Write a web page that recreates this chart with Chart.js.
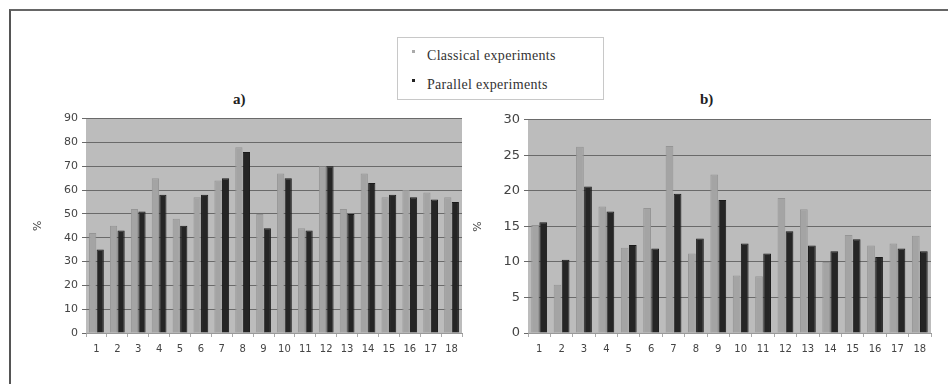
<!DOCTYPE html>
<html>
<head>
<meta charset="utf-8">
<script src="https://cdn.jsdelivr.net/npm/chart.js@4.4.0/dist/chart.umd.min.js"></script>
<style>
  body { margin: 0; background: #fff; width: 948px; height: 384px; overflow: hidden; position: relative; }
  .frame { position: absolute; left: 9px; top: 9px; width: 960px; height: 400px; border-top: 2px solid #666; border-left: 2px solid #555; }
  .legend { position: absolute; left: 397px; top: 37px; width: 205px; height: 61px; border: 1px solid #c8c8c8; font-family: "Liberation Serif", serif; font-size: 14px; letter-spacing: 0.3px; color: #333; }
  .legend div { position: absolute; left: 14px; }
  .legend span { display: inline-block; width: 3px; height: 3px; margin-right: 12px; vertical-align: 7px; }
  .ttl { position: absolute; top: 91px; font-family: "Liberation Serif", serif; font-weight: bold; font-size: 15px; color: #222; }
  canvas { position: absolute; }
</style>
</head>
<body>
<div class="frame"></div>
<div class="legend">
  <div style="top:10px"><span style="background:#aaa"></span>Classical experiments</div>
  <div style="top:39px"><span style="background:#222"></span>Parallel experiments</div>
</div>
<div class="ttl" style="left:233px">a)</div>
<div class="ttl" style="left:700px">b)</div>
<canvas id="chartA" style="left:30px;top:108px" width="440" height="262"></canvas>
<canvas id="chartB" style="left:470px;top:108px" width="475" height="262"></canvas>
<script>
const categories = ['1','2','3','4','5','6','7','8','9','10','11','12','13','14','15','16','17','18'];
const classicalA = [42, 45, 52, 65, 48, 57, 64, 78, 50, 67, 44, 70, 52, 67, 57, 60, 59, 57];
const parallelA  = [35, 43, 51, 58, 45, 58, 65, 76, 44, 65, 43, 70, 50, 63, 58, 57, 56, 55];
const classicalB = [15.2, 6.8, 26.2, 17.8, 12.0, 17.6, 26.3, 11.2, 22.3, 8.1, 8.0, 19.0, 17.4, 10.0, 13.8, 12.3, 12.6, 13.7];
const parallelB  = [15.6, 10.3, 20.6, 17.1, 12.4, 11.9, 19.6, 13.3, 18.7, 12.6, 11.2, 14.3, 12.3, 11.5, 13.2, 10.7, 11.9, 11.5];

const plotBg = {
  id: 'plotBg',
  beforeDraw(chart) {
    const a = chart.chartArea, c = chart.ctx;
    c.save();
    c.fillStyle = '#bcbcbc';
    c.fillRect(a.left, a.top, a.right - a.left, a.bottom - a.top);
    c.restore();
  }
};

function makeChart(id, cls, par, yMax, yStep, yWidth, padRight, yFont) {
  new Chart(document.getElementById(id), {
    type: 'bar',
    data: {
      labels: categories,
      datasets: [
        { label: 'Classical experiments', data: cls, backgroundColor: '#a4a4a4', borderColor: '#959595', borderWidth: 1 },
        { label: 'Parallel experiments', data: par, backgroundColor: '#252525', borderColor: '#1a1a1a', borderWidth: 1 }
      ]
    },
    options: {
      responsive: false,
      animation: false,
      layout: { padding: { top: 10, right: padRight, left: 0, bottom: 0 } },
      datasets: { bar: { categoryPercentage: 0.72, barPercentage: 0.96 } },
      plugins: { legend: { display: false }, tooltip: { enabled: false } },
      scales: {
        x: {
          grid: { offset: true, drawOnChartArea: false, tickLength: 4, color: '#aaa' },
          border: { color: '#999' },
          ticks: { color: '#444', font: { family: 'DejaVu Sans', size: 10 }, padding: 6, maxRotation: 0, autoSkip: false },
          afterFit(s) { s.height = 37; }
        },
        y: {
          min: 0, max: yMax,
          ticks: { stepSize: yStep, color: '#444', font: { family: 'DejaVu Sans', size: yFont }, padding: 4 },
          grid: { color: '#6a6a6a', lineWidth: 1, tickLength: 4 },
          border: { display: false },
          title: { display: true, text: '%', color: '#444', font: { family: 'DejaVu Sans', size: 11 }, padding: 2 },
          afterFit(s) { s.width = yWidth; }
        }
      }
    },
    plugins: [plotBg]
  });
}

makeChart('chartA', classicalA, parallelA, 90, 10, 56, 8, 11);
makeChart('chartB', classicalB, parallelB, 30, 5, 58, 14, 13);
</script>
</body>
</html>
